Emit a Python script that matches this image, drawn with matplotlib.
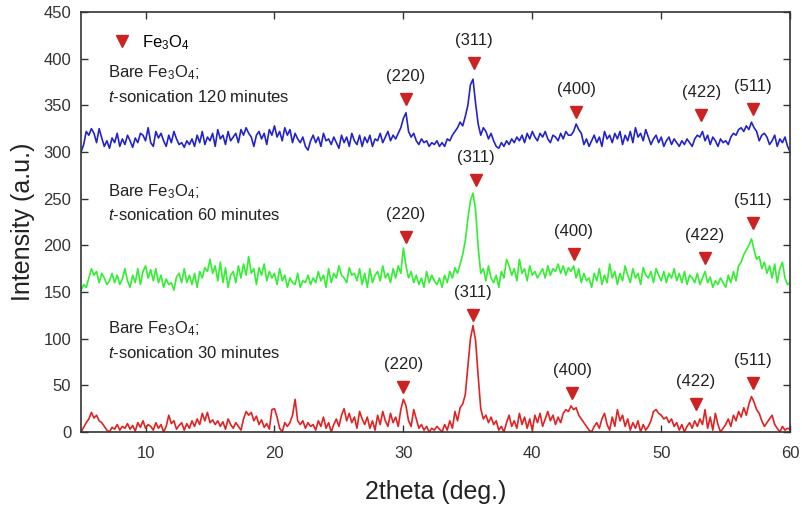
import numpy as np
import matplotlib
matplotlib.use('Agg')
import matplotlib.pyplot as plt
from matplotlib.lines import Line2D

plt.rcParams['font.family'] = ['Liberation Sans', 'DejaVu Sans']
plt.rcParams['mathtext.fontset'] = 'custom'
plt.rcParams['mathtext.rm'] = 'Liberation Sans'
plt.rcParams['mathtext.it'] = 'Liberation Sans:italic'

# 2theta grid, 0.2 deg steps from 5 to 60
two_theta = np.round(np.arange(5.0, 60.0001, 0.2), 1)

# t-sonication 30 minutes (red)
int_30 = [
    0, 5, 10, 14, 21, 15, 18, 12, 10, 6,
    2, 0, 5, 3, 8, 2, 6, 4, 9, 3,
    7, 1, 10, 5, 12, 4, 8, 6, 2, 10,
    4, 8, 0, 6, 18, 9, 12, 3, 7, 10,
    2, 9, 4, 12, 6, 14, 8, 20, 12, 21,
    10, 13, 8, 12, 6, 11, 3, 14, 8, 4,
    10, 6, 2, 14, 22, 18, 21, 12, 17, 8,
    13, 5, 9, 3, 24, 25, 16, 4, 0, 10,
    6, 10, 18, 35, 12, 8, 12, 4, 10, 6,
    8, 2, 12, 6, 16, 4, 10, 0, 8, 14,
    6, 18, 25, 12, 20, 10, 16, 4, 22, 14,
    8, 16, 4, 12, 2, 18, 8, 22, 12, 6,
    20, 10, 16, 6, 24, 35, 28, 12, 6, 24,
    14, 4, 8, 2, 6, 0, 4, 2, 6, 3,
    0, 8, 2, 12, 4, 22, 12, 26, 30, 40,
    70, 100, 114, 98, 60, 25, 14, 18, 10, 16,
    8, 12, 2, 6, 0, 10, 18, 6, 12, 4,
    20, 8, 16, 4, 14, 2, 18, 10, 20, 6,
    14, 22, 12, 18, 8, 16, 10, 20, 24, 22,
    28, 24, 26, 18, 14, 10, 6, 2, 0, 6,
    10, 4, 14, 20, 8, 2, 16, 6, 24, 12,
    18, 6, 14, 2, 10, 4, 12, 0, 8, 2,
    6, 12, 22, 24, 20, 18, 14, 16, 10, 14,
    6, 10, 2, 8, 0, 6, 10, 4, 12, 6,
    14, 8, 24, 4, 16, 2, 20, 8, 0, 4,
    8, 14, 6, 18, 12, 22, 16, 26, 18, 30,
    38, 32, 24, 20, 12, 6, 10, 14, 18, 8,
    4, 0, 6, 2, 4, 3,
]

# t-sonication 60 minutes (green)
int_60 = [
    152, 158, 155, 165, 175, 168, 172, 160, 170, 165,
    158, 162, 170, 160, 168, 158, 164, 175, 162, 155,
    168, 160, 175, 158, 172, 178, 165, 174, 162, 175,
    160, 168, 155, 164, 158, 160, 152, 166, 170, 160,
    175, 160, 168, 158, 170, 155, 172, 165, 176, 172,
    185, 170, 178, 162, 182, 160, 176, 155, 168, 172,
    160, 178, 165, 180, 168, 188, 170, 175, 158, 176,
    168, 180, 162, 172, 165, 170, 158, 175, 162, 168,
    155, 165, 160, 158, 170, 155, 162, 160, 168, 158,
    165, 160, 172, 162, 168, 155, 175, 160, 170, 165,
    178, 168, 165, 160, 176, 168, 170, 162, 175, 158,
    170, 155, 175, 160, 168, 172, 162, 178, 165, 170,
    160, 175, 165, 178, 170, 197, 178, 165, 172, 160,
    168, 158, 165, 155, 172, 160, 168, 162, 158, 165,
    155, 168, 160, 172, 165, 176, 170, 180, 190, 205,
    228, 248, 256, 238, 198, 170, 175, 162, 178, 165,
    160, 168, 155, 172, 165, 185, 178, 168, 175, 162,
    185, 170, 175, 162, 178, 168, 172, 165, 170, 175,
    165, 178, 168, 175, 172, 180, 170, 178, 168, 176,
    172, 178, 165, 175, 160, 170, 162, 165, 155, 170,
    162, 175, 158, 168, 160, 180, 165, 172, 158, 170,
    162, 178, 168, 160, 175, 165, 170, 158, 176, 168,
    165, 172, 160, 175, 168, 162, 172, 160, 170, 165,
    175, 162, 170, 160, 172, 158, 168, 165, 160, 170,
    158, 165, 172, 160, 166, 155, 162, 158, 165, 160,
    155, 168, 160, 172, 162, 178, 182, 190, 195, 200,
    207, 195, 185, 188, 175, 182, 170, 178, 165, 180,
    160, 175, 182, 165, 158, 160,
]

# t-sonication 120 minutes (blue)
int_120 = [
    300, 308, 322, 318, 325, 320, 310, 325, 315, 306,
    312, 304, 315, 310, 320, 306, 314, 308, 318, 312,
    305, 315, 310, 320, 318, 312, 326, 310, 306, 322,
    315, 320, 312, 306, 318, 310, 322, 314, 308, 310,
    305, 312, 308, 314, 306, 318, 310, 322, 308, 316,
    312, 320, 306, 324, 314, 318, 308, 322, 312, 316,
    320, 310, 324, 318, 326, 320, 316, 306, 318, 322,
    314, 320, 308, 324, 318, 328, 316, 322, 312, 326,
    318, 324, 310, 320, 314, 310, 316, 306, 302, 312,
    318, 310, 316, 306, 320, 312, 314, 308, 316, 310,
    304, 318, 310, 316, 306, 320, 312, 308, 318, 306,
    316, 310, 318, 306, 314, 312, 320, 310, 316, 322,
    312, 318, 314, 320, 326, 336, 342, 322, 316, 320,
    312, 308, 314, 310, 312, 306, 310, 308, 312, 306,
    310, 306, 314, 312, 318, 322, 326, 332, 328, 338,
    350, 372, 378, 352, 330, 318, 326, 322, 314, 320,
    312, 306, 304, 310, 306, 312, 308, 314, 310, 316,
    312, 318, 310, 320, 314, 322, 316, 312, 320, 316,
    322, 314, 310, 318, 316, 312, 320, 314, 322, 318,
    318, 322, 330, 324, 320, 308, 314, 306, 312, 318,
    310, 316, 306, 322, 314, 318, 310, 320, 314, 322,
    308, 318, 312, 322, 310, 326, 316, 320, 312, 324,
    316, 308, 314, 318, 310, 316, 306, 312, 316, 308,
    314, 310, 306, 312, 308, 314, 310, 306, 314, 318,
    316, 322, 312, 318, 308, 316, 312, 306, 314, 310,
    312, 308, 316, 320, 318, 324, 326, 322, 328, 324,
    332, 326, 322, 312, 318, 320, 316, 308, 312, 318,
    306, 314, 310, 316, 306, 300,
]

# Fe3O4 reflections marked on each pattern
peak_labels = ['(220)', '(311)', '(400)', '(422)', '(511)']
peaks_120_x = [30.2, 35.5, 43.4, 53.1, 57.1]
peaks_120_y = [357, 395, 343, 340, 346]
peaks_60_x = [30.2, 35.6, 43.2, 53.4, 57.1]
peaks_60_y = [209, 270, 191, 186, 224]
peaks_30_x = [30.0, 35.4, 43.1, 52.7, 57.1]
peaks_30_y = [48, 125, 42, 30, 53]

series_names = ['120', '60', '30']

MARKER_COLOR = '#cc2222'
TEXT_COLOR = '#222222'


def DrawPattern(ax, y, color, px, py, minutes, text_y):
    ax.plot(two_theta, y, color=color, lw=1.2)
    ax.plot(px, py, linestyle='none', marker='v', ms=9,
            color=MARKER_COLOR, mec=MARKER_COLOR)
    for x0, y0, lab in zip(px, py, peak_labels):
        ax.text(x0, y0 + 24, lab, ha='center', va='center', fontsize=12,
                color=TEXT_COLOR)
    ax.text(7.1, text_y, 'Bare Fe$_3$O$_4$;', fontsize=12,
            va='center', ha='left', color=TEXT_COLOR)
    ax.text(7.1, text_y - 26, '$\\it{t}$-sonication ' + minutes + ' minutes',
            fontsize=12, va='center', ha='left', color=TEXT_COLOR)


def main():
    fig = plt.figure(figsize=(8.03, 5.08), dpi=100)
    ax = fig.add_axes([0.101, 0.1496, 0.883, 0.8268])

    DrawPattern(ax, int_120, '#2323cc', peaks_120_x, peaks_120_y,
                series_names[0], 385)
    DrawPattern(ax, int_60, '#33ee33', peaks_60_x, peaks_60_y,
                series_names[1], 258)
    DrawPattern(ax, int_30, '#e02222', peaks_30_x, peaks_30_y,
                series_names[2], 111)

    ax.set_xlim(5, 60)
    ax.set_ylim(0, 450)
    ax.set_xticks(np.arange(10, 61, 10))
    ax.set_yticks(np.arange(0, 451, 50))
    ax.tick_params(direction='in', length=5, width=1, top=True, right=True,
                   labelsize=12, colors='#333333')
    ax.tick_params(axis='x', pad=10)
    ax.tick_params(axis='y', pad=7)
    for s in ax.spines.values():
        s.set_color('#333333')
        s.set_linewidth(1.2)

    ax.set_xlabel('2theta (deg.)', fontsize=18, color=TEXT_COLOR, labelpad=14)
    ax.set_ylabel('Intensity (a.u.)', fontsize=18, color=TEXT_COLOR, labelpad=6)

    handle = Line2D([], [], linestyle='none', marker='v', ms=9,
                    color=MARKER_COLOR, label='Fe$_3$O$_4$')
    ax.legend(handles=[handle], loc='upper left', frameon=False, fontsize=12,
              handletextpad=0.2, borderaxespad=0.6, bbox_to_anchor=(0.01, 0.99))

    plt.savefig('out.png', dpi=100)


if __name__ == "__main__":
    main()
